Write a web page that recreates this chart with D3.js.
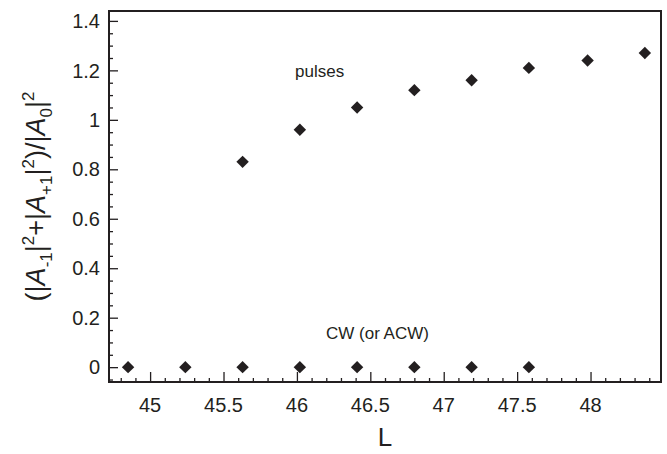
<!DOCTYPE html>
<html>
<head>
<meta charset="utf-8">
<script src="https://cdn.jsdelivr.net/npm/d3@7"></script>
<style>
  html, body { margin: 0; padding: 0; background: #fff; }
  svg { display: block; font-family: "Liberation Sans", Arial, sans-serif; }
</style>
</head>
<body>
<svg id="chart" width="667" height="454"></svg>
<script>
// ---- data ----
const pulsesL = [45.63, 46.02, 46.41, 46.80, 47.19, 47.58, 47.98, 48.37];
const pulsesV = [0.83, 0.96, 1.05, 1.12, 1.16, 1.21, 1.24, 1.27];
const cwL = [44.85, 45.24, 45.63, 46.02, 46.41, 46.80, 47.19, 47.58];
const cwV = [0, 0, 0, 0, 0, 0, 0, 0];
const xTickValues = [45, 45.5, 46, 46.5, 47, 47.5, 48];
const xTickLabels = ["45", "45.5", "46", "46.5", "47", "47.5", "48"];
const yTickValues = [0, 0.2, 0.4, 0.6, 0.8, 1, 1.2, 1.4];
const yTickLabels = ["0", "0.2", "0.4", "0.6", "0.8", "1", "1.2", "1.4"];
const xDomain = [44.72, 48.48];
const yDomain = [-0.06, 1.44];

// ---- layout ----
const ink = "#231f20";
const plot = { left: 109, right: 661, top: 11, bottom: 382 };
const svg = d3.select("#chart");

const x = d3.scaleLinear().domain(xDomain).range([plot.left, plot.right]);
const y = d3.scaleLinear().domain(yDomain).range([plot.bottom, plot.top]);

// minor ticks
const xMinor = d3.range(44.8, 48.45, 0.1).map(v => +v.toFixed(2)).filter(v => Math.abs(v * 2 - Math.round(v * 2)) > 1e-6);
const yMinor = d3.range(-0.05, 1.44, 0.05).map(v => +v.toFixed(2)).filter(v => Math.abs(v * 5 - Math.round(v * 5)) > 1e-6);

// bottom axis (ticks inward)
const gx = svg.append("g").attr("transform", `translate(0,${plot.bottom})`);
gx.call(d3.axisTop(x).tickValues(xMinor).tickSize(4).tickFormat(""));
gx.append("g").call(d3.axisTop(x).tickValues(xTickValues).tickSize(10).tickFormat(""));
gx.selectAll(".domain").remove();
gx.selectAll("line").attr("stroke", ink).attr("stroke-width", 1.3);
gx.selectAll(".xlab").data(xTickValues).enter().append("text")
  .attr("x", d => x(d)).attr("y", 30)
  .attr("text-anchor", "middle").attr("font-size", 20).attr("fill", ink)
  .text((d, i) => xTickLabels[i]);

// left axis (ticks inward)
const gy = svg.append("g").attr("transform", `translate(${plot.left},0)`);
gy.call(d3.axisRight(y).tickValues(yMinor).tickSize(4).tickFormat(""));
gy.append("g").call(d3.axisRight(y).tickValues(yTickValues).tickSize(9).tickFormat(""));
gy.selectAll(".domain").remove();
gy.selectAll("line").attr("stroke", ink).attr("stroke-width", 1.3);
gy.selectAll(".ylab").data(yTickValues).enter().append("text")
  .attr("x", -9).attr("y", d => y(d)).attr("dy", "0.36em")
  .attr("text-anchor", "end").attr("font-size", 20).attr("fill", ink)
  .text((d, i) => yTickLabels[i]);

// frame
svg.append("rect")
  .attr("x", plot.left).attr("y", plot.top)
  .attr("width", plot.right - plot.left).attr("height", plot.bottom - plot.top)
  .attr("fill", "none").attr("stroke", ink).attr("stroke-width", 2);

// diamonds
const diamond = "M0,-6.2L6.2,0L0,6.2L-6.2,0Z";
const pts = pulsesL.map((l, i) => ({ l, v: pulsesV[i] }))
  .concat(cwL.map((l, i) => ({ l, v: cwV[i] })));
svg.append("g").selectAll("path").data(pts).enter().append("path")
  .attr("d", diamond)
  .attr("transform", d => `translate(${x(d.l)},${y(d.v)})`)
  .attr("fill", ink);

// annotations
svg.append("text").attr("x", 295).attr("y", 77).attr("font-size", 17).attr("fill", ink).text("pulses");
svg.append("text").attr("x", 326).attr("y", 339).attr("font-size", 17).attr("fill", ink).text("CW (or ACW)");

// x title
svg.append("text").attr("x", (plot.left + plot.right) / 2).attr("y", 446)
  .attr("text-anchor", "middle").attr("font-size", 26).attr("fill", ink).text("L");

// y title
const yt = svg.append("text")
  .attr("transform", `translate(45,${(plot.top + plot.bottom) / 2}) rotate(-90)`)
  .attr("text-anchor", "middle").attr("font-size", 27).attr("fill", ink);
const parts = [
  ["(|", null], ["A", "it"], ["-1", "sub"], ["|", null], ["2", "sup"],
  ["+|", "back"], ["A", "it"], ["+1", "sub"], ["|", null], ["2", "sup"],
  [")/|", "back"], ["A", "it"], ["0", "sub"], ["|", null], ["2", "sup"]
];
let shift = 0;
parts.forEach(([t, k]) => {
  const ts = yt.append("tspan").text(t);
  let target = 0;
  if (k === "sub") { ts.attr("font-size", 17); target = 7; }
  else if (k === "sup") { ts.attr("font-size", 17); target = -11; }
  if (k === "it") ts.attr("font-style", "italic");
  ts.attr("dy", target - shift);
  shift = target;
});
</script>
</body>
</html>
